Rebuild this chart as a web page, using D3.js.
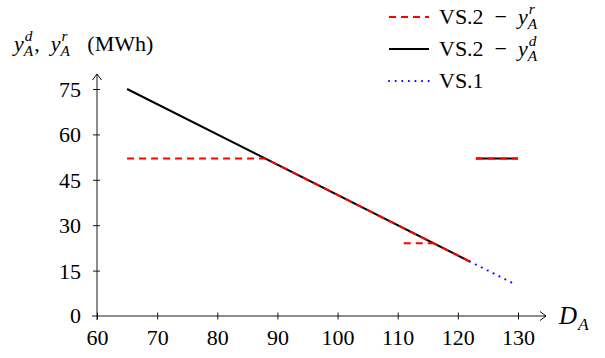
<!DOCTYPE html>
<html>
<head>
<meta charset="utf-8">
<script src="https://cdn.jsdelivr.net/npm/d3@7"></script>
<style>
  body { margin: 0; background: #fff; }
  svg text { font-family: "Liberation Serif", "Times New Roman", "DejaVu Serif", serif !important; white-space: pre; fill: #000; }
</style>
</head>
<body>
<div id="chart"></div>
<script>
// data (null = gap in the line)
var vs2_yd_D = [65, 122, null, 123, 130];
var vs2_yd_y = [75, 18, null, 52, 52];
var vs2_yr_D = [65, 88, 122, null, 111, 116, null, 123, 130];
var vs2_yr_y = [52, 52, 18, null, 24, 24, null, 52, 52];
var vs1_D = [122, 129];
var vs1_y = [18, 11];
var xTicks = [60, 70, 80, 90, 100, 110, 120, 130];
var yTicks = [0, 15, 30, 45, 60, 75];

var W = 605, H = 358, FS = 22;

var svg = d3.select("#chart").append("svg")
    .attr("width", W)
    .attr("height", H);

var x = d3.scaleLinear().domain([60, 130]).range([97, 518]);
var y = d3.scaleLinear().domain([0, 75]).range([316, 89]);

// arrow head like tikz "->"
svg.append("defs").append("marker")
    .attr("id", "arr")
    .attr("viewBox", "-8 -6 10 12")
    .attr("markerWidth", 10).attr("markerHeight", 12)
    .attr("markerUnits", "userSpaceOnUse")
    .attr("refX", 0).attr("refY", 0)
    .attr("orient", "auto")
    .append("path")
        .attr("d", "M-6,-4.5 Q-1.5,-1 0,0 Q-1.5,1 -6,4.5")
        .attr("fill", "none")
        .attr("stroke", "#000")
        .attr("stroke-width", 1);

function zip(a, b) {
    return a.map(function (d, i) { return d === null ? null : [d, b[i]]; });
}

// one <text> with tspans; scripts = stacked sup/sub
function rich(g, x0, y0, items, size) {
    var txt = g.append("text")
        .attr("x", x0).attr("y", y0)
        .style("font-size", size + "px");
    var lift = 0, pad = 0;
    items.forEach(function (it) {
        if (it.t !== undefined) {
            txt.append("tspan")
                .attr("dy", -lift).attr("dx", pad)
                .style("font-style", it.i ? "italic" : "normal")
                .text(it.t);
            lift = 0; pad = 0;
        } else {
            var ss = 0.7 * size, up = 0.45 * size, down = 0.24 * size;
            var ws = 0, wb = 0, dyb = down - lift, dxb = 1 + pad;
            if (it.sup) {
                var s = txt.append("tspan")
                    .attr("dy", -up - lift).attr("dx", 1 + pad)
                    .style("font-size", ss + "px")
                    .style("font-style", "italic")
                    .text(it.sup);
                ws = s.node().getComputedTextLength() + 1;
                dyb = up + down;
                dxb = -ws;
            }
            var b = txt.append("tspan")
                .attr("dy", dyb).attr("dx", dxb)
                .style("font-size", ss + "px")
                .style("font-style", "italic")
                .text(it.sub);
            wb = b.node().getComputedTextLength();
            lift = down;
            pad = Math.max(0, ws - wb) + 1;
        }
    });
    return txt;
}

// axes
var xAxis = svg.append("g")
    .attr("transform", "translate(0," + y(0) + ")")
    .call(d3.axisBottom(x).tickValues(xTicks).tickSize(3.5).tickFormat(d3.format("d")));
xAxis.select(".domain").remove();
xAxis.selectAll(".tick line").attr("y1", -3.5).attr("stroke", "#000").attr("stroke-width", 0.9);
xAxis.selectAll(".tick text")
    .attr("y", 29).attr("dy", 0)
    .style("font-size", FS + "px");

var yAxis = svg.append("g")
    .attr("transform", "translate(" + x(60) + ",0)")
    .call(d3.axisLeft(y).tickValues(yTicks).tickSize(4).tickFormat(d3.format("d")));
yAxis.select(".domain").remove();
yAxis.selectAll(".tick line").attr("x1", 3).attr("stroke", "#000").attr("stroke-width", 0.9);
yAxis.selectAll(".tick text")
    .attr("x", -16).attr("dy", "0.34em")
    .style("font-size", FS + "px");
yAxis.selectAll(".tick").filter(function (d) { return d === 0; }).remove();

// 0 label sits left of the origin
svg.append("text")
    .attr("x", 81).attr("y", y(0) + 7)
    .attr("text-anchor", "end")
    .style("font-size", FS + "px")
    .text("0");

svg.append("line")
    .attr("x1", 92).attr("y1", y(0)).attr("x2", 546).attr("y2", y(0))
    .attr("stroke", "#000").attr("stroke-width", 0.9)
    .attr("marker-end", "url(#arr)");
svg.append("line")
    .attr("x1", x(60)).attr("y1", 320).attr("x2", x(60)).attr("y2", 74)
    .attr("stroke", "#000").attr("stroke-width", 0.9)
    .attr("marker-end", "url(#arr)");

// series
var line = d3.line()
    .defined(function (d) { return d !== null; })
    .x(function (d) { return x(d[0]); })
    .y(function (d) { return y(d[1]); });

svg.append("path")
    .datum(zip(vs1_D, vs1_y))
    .attr("d", line)
    .attr("fill", "none")
    .attr("stroke", "#0000ff")
    .attr("stroke-width", 2)
    .attr("stroke-linecap", "round")
    .attr("stroke-dasharray", "0.1,6.5");

svg.append("path")
    .datum(zip(vs2_yd_D, vs2_yd_y))
    .attr("d", line)
    .attr("fill", "none")
    .attr("stroke", "#000")
    .attr("stroke-width", 2);

svg.append("path")
    .datum(zip(vs2_yr_D, vs2_yr_y))
    .attr("d", line)
    .attr("fill", "none")
    .attr("stroke", "#ff0000")
    .attr("stroke-width", 2)
    .attr("stroke-dasharray", "7,5");

// axis labels
rich(svg, 14, 51, [
    { t: "y", i: true }, { sup: "d", sub: "A" },
    { t: ",  " },
    { t: "y", i: true }, { sup: "r", sub: "A" },
    { t: "   (MWh)" }
], FS);

rich(svg, 559, 324, [
    { t: "D", i: true }, { sub: "A" }
], 25);

// legend
var legend = [
    { color: "#ff0000", dash: "7,5", cap: "butt", label: [{ t: "VS.2  \u2212  " }, { t: "y", i: true }, { sup: "r", sub: "A" }] },
    { color: "#000", dash: null, cap: "butt", label: [{ t: "VS.2  \u2212  " }, { t: "y", i: true }, { sup: "d", sub: "A" }] },
    { color: "#0000ff", dash: "0.1,6.5", cap: "round", label: [{ t: "VS.1" }] }
];
var legY = [17, 49, 81];
legend.forEach(function (d, i) {
    svg.append("line")
        .attr("x1", 389).attr("x2", 429)
        .attr("y1", legY[i]).attr("y2", legY[i])
        .attr("stroke", d.color)
        .attr("stroke-width", 2)
        .attr("stroke-linecap", d.cap)
        .attr("stroke-dasharray", d.dash);
    rich(svg, 439, legY[i] + 7, d.label, FS);
});
</script>
</body>
</html>
